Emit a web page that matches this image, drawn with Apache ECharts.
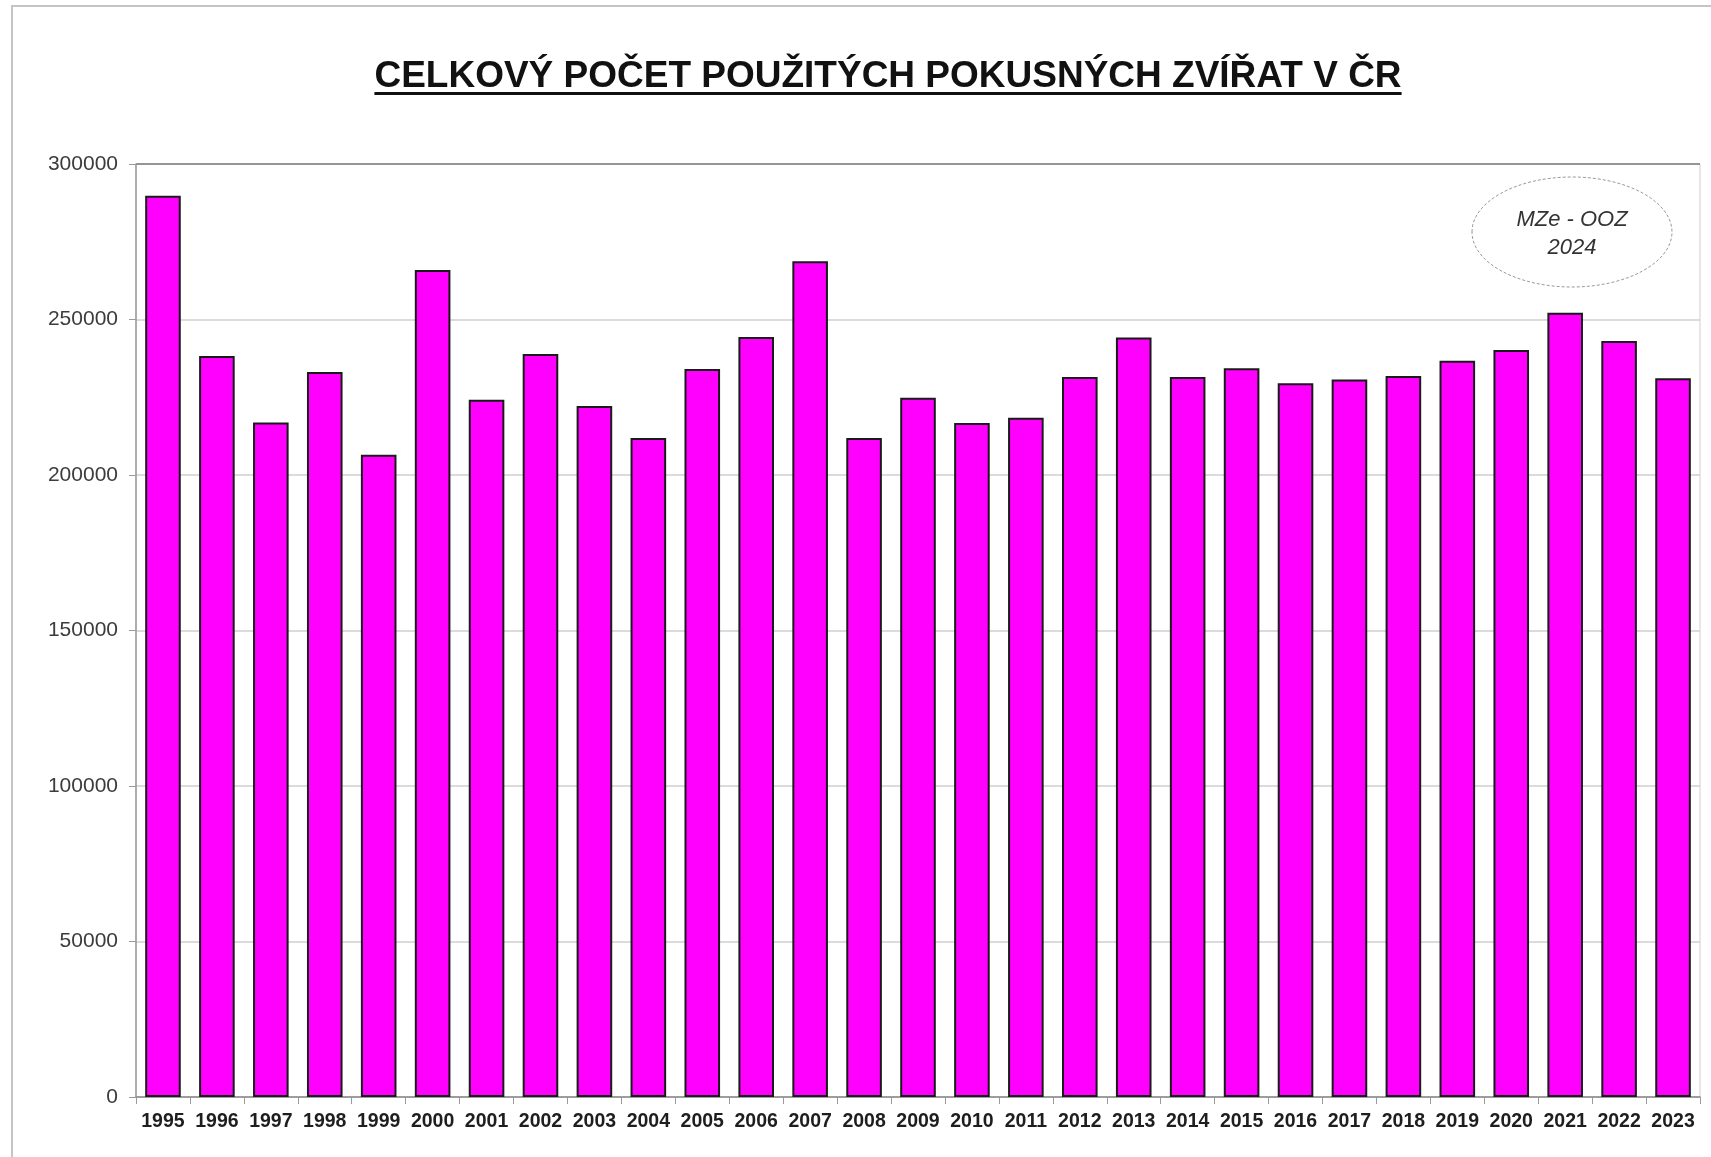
<!DOCTYPE html>
<html>
<head>
<meta charset="utf-8">
<title>Celkový počet použitých pokusných zvířat v ČR</title>
<script src="https://cdn.jsdelivr.net/npm/echarts@6/dist/echarts.min.js"></script>
<style>
  html, body { margin: 0; padding: 0; background: #fff; }
  #chart { width: 1711px; height: 1157px; }
</style>
</head>
<body>
<div id="chart"></div>
<script>
const years = ['1995', '1996', '1997', '1998', '1999', '2000', '2001', '2002', '2003', '2004',
  '2005', '2006', '2007', '2008', '2009', '2010', '2011', '2012', '2013', '2014',
  '2015', '2016', '2017', '2018', '2019', '2020', '2021', '2022', '2023'];

// počet zvířat
const animals = [289800, 238300, 216900, 233100, 206500, 265900, 224200, 238900, 222200, 211900,
  234100, 244400, 268700, 211900, 224800, 216700, 218400, 231500, 244200, 231500,
  234300, 229500, 230700, 231800, 236700, 240200, 252200, 243100, 231100];

const titleText = 'CELKOVÝ POČET POUŽITÝCH POKUSNÝCH ZVÍŘAT V ČR';
const noteLines = ['MZe - OOZ', '2024'];

const fontFamily = '"Liberation Sans", Arial, sans-serif';
const titleFont = 'bold 37px ' + fontFamily;

// šířka nadpisu kvůli podtržení
function measure(font, text) {
  const ctx = document.createElement('canvas').getContext('2d');
  ctx.font = font;
  return ctx.measureText(text).width;
}

const titleX = 888;
const titleW = measure(titleFont, titleText);

const chart = echarts.init(document.getElementById('chart'), null, { renderer: 'canvas' });

const option = {
  backgroundColor: '#fff',
  animation: false,
  grid: {
    left: 136,
    top: 164,
    right: 11,
    bottom: 60,
    show: true,
    borderColor: '#cfcfcf',
    borderWidth: 1
  },
  xAxis: {
    type: 'category',
    data: years,
    boundaryGap: true,
    axisLine: { lineStyle: { color: '#8a8a8a', width: 1.5 } },
    axisTick: { show: true, length: 7, lineStyle: { color: '#9a9a9a' } },
    axisLabel: {
      interval: 0,
      margin: 15,
      color: '#1e1e1e',
      fontFamily: fontFamily,
      fontWeight: 'bold',
      fontSize: 19.5
    },
    splitLine: { show: false }
  },
  yAxis: {
    type: 'value',
    min: 0,
    max: 300000,
    interval: 50000,
    axisLine: { show: true, lineStyle: { color: '#9a9a9a', width: 1.5 } },
    axisTick: { show: true, length: 7, lineStyle: { color: '#9a9a9a' } },
    axisLabel: {
      margin: 18,
      color: '#3c3c3c',
      fontFamily: fontFamily,
      fontSize: 21,
      formatter: v => String(v)
    },
    splitLine: {
      show: true,
      lineStyle: {
        color: ['#cfcfcf', '#cfcfcf', '#cfcfcf', '#cfcfcf', '#cfcfcf', '#cfcfcf', '#7a7a7a'],
        width: 1.5
      }
    }
  },
  series: [{
    type: 'bar',
    data: animals,
    barCategoryGap: '34%',
    itemStyle: {
      color: '#ff00ff',
      borderColor: '#1a1a1a',
      borderWidth: 2
    }
  }],
  graphic: [
    {
      // rámeček kolem celého obrázku
      type: 'rect',
      silent: true,
      shape: { x: 12, y: 6, width: 1800, height: 1300 },
      style: { fill: 'none', stroke: '#c4c4c4', lineWidth: 2 }
    },
    {
      type: 'text',
      silent: true,
      x: titleX,
      y: 77,
      style: {
        text: titleText,
        font: titleFont,
        fill: '#111',
        align: 'center',
        verticalAlign: 'middle'
      }
    },
    {
      type: 'rect',
      silent: true,
      shape: { x: titleX - titleW / 2, y: 92, width: titleW, height: 3 },
      style: { fill: '#111' }
    },
    {
      type: 'ellipse',
      silent: true,
      shape: { cx: 1572, cy: 232, rx: 100, ry: 55 },
      style: { fill: '#fff', stroke: '#9a9a9a', lineWidth: 1, lineDash: [3, 2] }
    },
    {
      type: 'text',
      silent: true,
      x: 1572,
      y: 234,
      style: {
        text: noteLines.join('\n'),
        font: 'italic 22px ' + fontFamily,
        lineHeight: 28,
        fill: '#333',
        align: 'center',
        verticalAlign: 'middle'
      }
    }
  ]
};

chart.setOption(option);
</script>
</body>
</html>
